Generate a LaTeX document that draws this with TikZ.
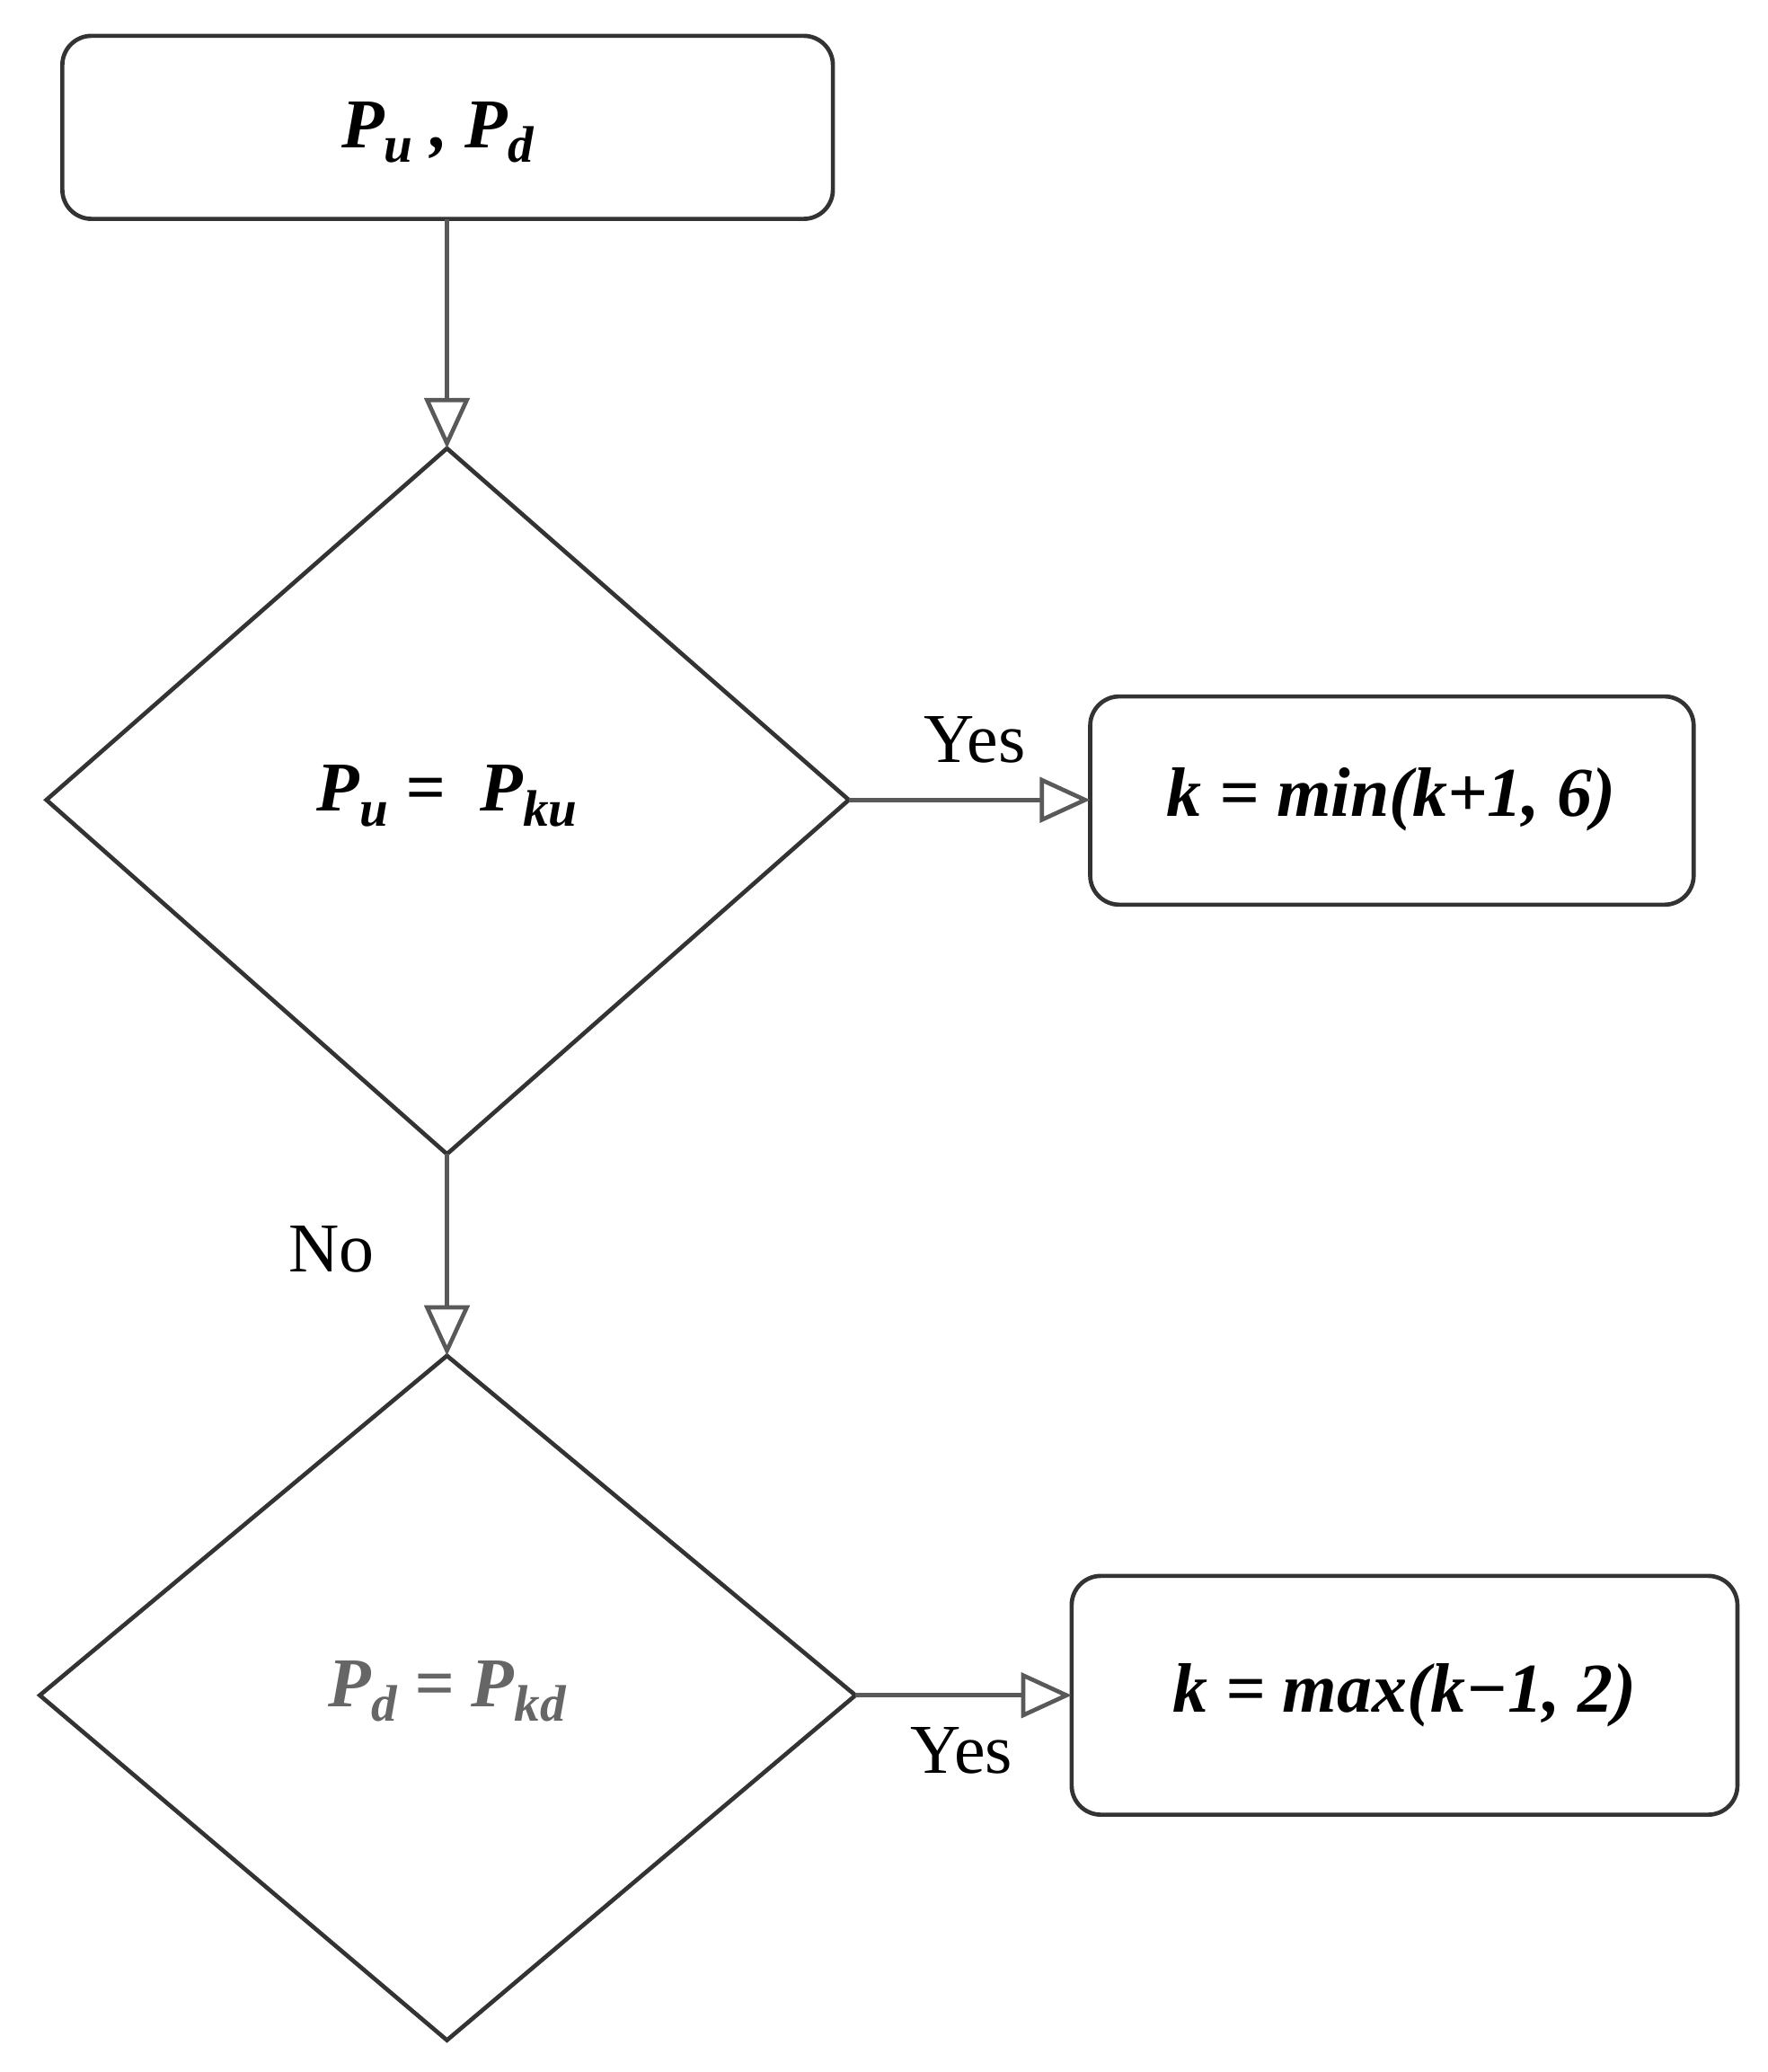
\documentclass[tikz,border=0pt]{standalone}
\usepackage{fontspec}
\setmainfont{Liberation Serif}
\usetikzlibrary{arrows.meta,shapes.geometric}
\newcommand{\sbs}[1]{\raisebox{-0.45ex}{\fontsize{11}{12}\selectfont\bfseries\itshape #1}}
\begin{document}
\begin{tikzpicture}[x=0.01cm,y=-0.01cm,
  ln/.style={draw=black!65,line width=0.9pt},
  arr/.style={ln,-{Triangle[open,length=0.38cm,width=0.34cm]}},
  box/.style={draw=black!80,line width=0.9pt,rounded corners=0.22cm},
  dia/.style={draw=black!80,line width=0.9pt},
  lab/.style={font=\fontsize{15}{18}\selectfont\bfseries\itshape},
  yn/.style={font=\fontsize{15}{18}\selectfont}]
\useasboundingbox (0,0) rectangle (1333,1562);
% top box
\draw[box] (47,27) rectangle (628,165);
\node[lab] (t) at (330,100) {P\sbs{u} , P\sbs{d}};
\coordinate (tb) at (337,165);
% diamond 1
\draw[dia] (337,338) coordinate (d1t) -- (640,603) coordinate (d1r) -- (337,870) coordinate (d1b) -- (35,603) -- cycle;
\node[lab] (d1) at (337,600) {P\sbs{u} =\ \ P\sbs{ku}};
% box2
\draw[box] (822,525) rectangle (1277,682);
\coordinate (b2l) at (822,603);
\node[lab] (b2) at (1049,603) {k = min(k+1, 6)};
% diamond 2
\draw[dia] (337,1022) coordinate (d2t) -- (645,1278) coordinate (d2r) -- (337,1538) -- (30,1278) -- cycle;
\node[lab,text=black!60] (d2) at (337,1275) {P\sbs{d} = P\sbs{kd}};
% box3
\draw[box] (808,1188) rectangle (1310,1368);
\coordinate (b3l) at (808,1278);
\node[lab] (b3) at (1059,1278) {k = max(k\textminus1, 2)};
% connectors
\draw[arr] (tb) -- (d1t);
\draw[arr] (d1r) -- (b2l);
\draw[arr] (d1b) -- (d2t);
\draw[arr] (d2r) -- (b3l);
\node[yn] (y1) at (735,558) {Yes};
\node[yn] (n1) at (250,942) {No};
\node[yn] (y2) at (725,1320) {Yes};
\end{tikzpicture}
\end{document}
